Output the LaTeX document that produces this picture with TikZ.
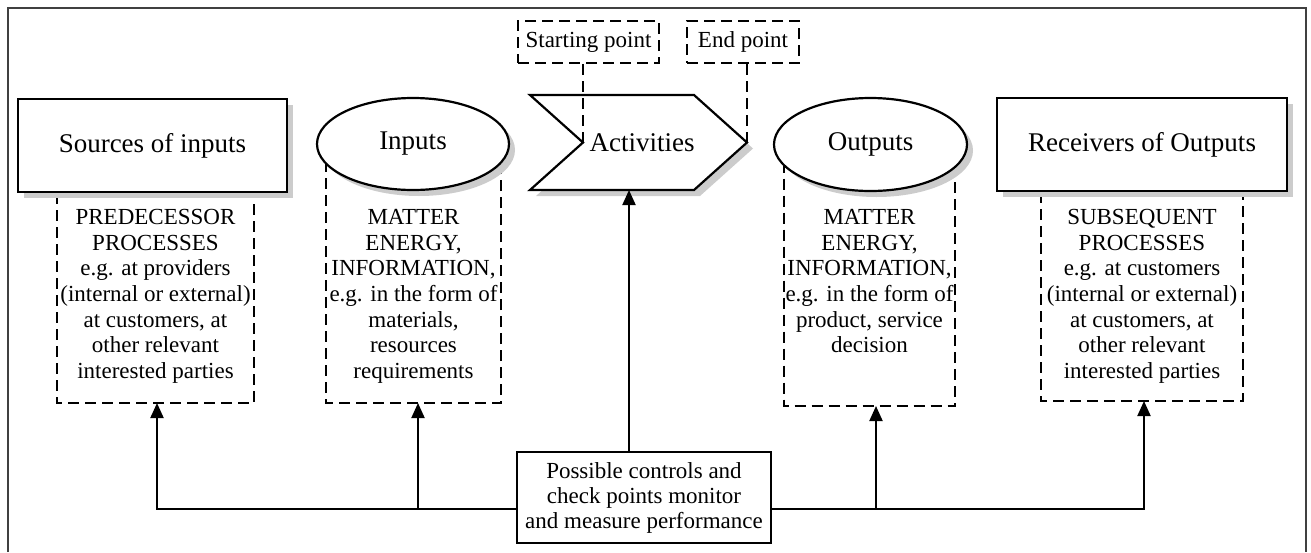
\documentclass[tikz,border=0pt]{standalone}
\usepackage{fontspec}
\setmainfont{Liberation Serif}
\usetikzlibrary{arrows.meta,shapes,shadows,backgrounds}

\begin{document}
\begin{tikzpicture}[x=1pt,y=-1pt,
	shapeline/.style={line width=2.2pt,fill=white,
		drop shadow={shadow xshift=6pt,shadow yshift=-6pt,fill=black!20,opacity=1}},
	titlebox/.style={draw,shapeline,inner sep=0pt,font=\fontsize{27}{30}\selectfont},
	dashline/.style={line width=2pt,dash pattern=on 11pt off 6pt},
	dashbox/.style={draw,dashline,inner sep=0pt,font=\fontsize{23}{26}\selectfont},
	desctext/.style={anchor=north,align=center,inner sep=0pt,font=\fontsize{23}{25.7}\selectfont},
	arr/.style={line width=2pt,-{Triangle[length=15pt,width=13pt]}}]

	\useasboundingbox (0,0) rectangle (1311,552);
	\draw[line width=1.2pt,black!75] (8,552) -- (8,8) -- (1306,8) -- (1306,552);

	\node[titlebox,minimum width=269pt,minimum height=93pt] (src) at (152.5,145.5) {Sources of inputs};
	\node[titlebox,ellipse,minimum width=192pt,minimum height=92pt] (inp) at (413,144) {Inputs};
	\node[titlebox,ellipse,minimum width=193pt,minimum height=93pt] (out) at (870.5,144.5) {Outputs};
	\node[titlebox,minimum width=290pt,minimum height=93pt] (rcv) at (1142,144.5) {Receivers of Outputs};

	\coordinate (notch) at (583,142.5);
	\coordinate (tip) at (747,142.5);
	\coordinate (actb) at (629,190);
	\draw[shapeline] (530,95) -- (694,95) -- (tip) -- (694,190) -- (530,190) -- (notch) -- cycle;
	\node[font=\fontsize{27}{30}\selectfont] (act) at (642,142.5) {Activities};

	\node[dashbox,minimum width=141pt,minimum height=42pt] (sp) at (588.5,42) {Starting point};
	\node[dashbox,minimum width=112pt,minimum height=42pt] (ep) at (743,42) {End point};
	\draw[dashline] (sp.south -| notch) -- (notch);
	\draw[dashline] (ep.south -| tip) -- (tip);

	\node[desctext] (srct) at (155.5,209) {PREDECESSOR\\PROCESSES\\e.g. at providers\\(internal or external)\\at customers, at\\other relevant\\interested parties};
	\node[desctext] (inpt) at (413.5,209) {MATTER\\ENERGY,\\INFORMATION,\\e.g. in the form of\\materials,\\resources\\requirements};
	\node[desctext] (outt) at (869.5,209) {MATTER\\ENERGY,\\INFORMATION,\\e.g. in the form of\\product, service\\decision};
	\node[desctext] (rcvt) at (1142,209) {SUBSEQUENT\\PROCESSES\\e.g. at customers\\(internal or external)\\at customers, at\\other relevant\\interested parties};

	\coordinate (srcbl) at (57,403);
	\coordinate (srcbr) at (254,403);
	\coordinate (inpbl) at (326,403);
	\coordinate (inpbr) at (501,403);
	\coordinate (outbl) at (784,406);
	\coordinate (outbr) at (955,406);
	\coordinate (rcvbl) at (1041,401);
	\coordinate (rcvbr) at (1243,401);
	\begin{scope}[on background layer]
		\draw[dashline] (src.south -| srcbl) -- (srcbl) -- (srcbr) -- (src.south -| srcbr);
		\draw[dashline] (inp.center -| inpbl) -- (inpbl) -- (inpbr) -- (inp.center -| inpbr);
		\draw[dashline] (out.center -| outbl) -- (outbl) -- (outbr) -- (out.center -| outbr);
		\draw[dashline] (rcv.south -| rcvbl) -- (rcvbl) -- (rcvbr) -- (rcv.south -| rcvbr);
	\end{scope}

	\node[draw,line width=2pt,align=center,inner sep=0pt,font=\fontsize{23}{25}\selectfont,
		minimum width=254pt,minimum height=91pt] (ctl) at (644,497.5) {Possible controls and\\check points monitor\\and measure performance};
	\coordinate (busl) at (517,509);
	\coordinate (busr) at (771,509);
	\coordinate (srca) at (157,403);
	\coordinate (inpa) at (418,403);
	\coordinate (outa) at (876,406);
	\coordinate (rcva) at (1144,401);
	\draw[arr] (busl) -| (srca);
	\draw[arr] (busl -| inpa) -- (inpa);
	\draw[arr] (busr) -| (rcva);
	\draw[arr] (busr -| outa) -- (outa);
	\draw[arr] (ctl.north -| actb) -- (actb);

\end{tikzpicture}
\end{document}
